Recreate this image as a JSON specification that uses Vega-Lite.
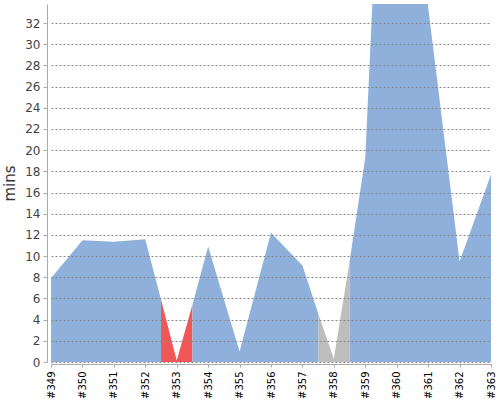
{
  "$schema": "https://vega.github.io/schema/vega-lite/v6.json",
  "width": 440,
  "height": 358,
  "autosize": {"type": "none"},
  "padding": {"left": 51, "top": 4, "right": 9, "bottom": 38},
  "background": "white",
  "config": {"view": {"stroke": null}, "font": "DejaVu Sans"},
  "data": {
    "values": [
      {"build": 349, "mins": 7.9, "status": "success", "seg": "A"},
      {"build": 350, "mins": 11.5, "status": "success", "seg": "A"},
      {"build": 351, "mins": 11.35, "status": "success", "seg": "A"},
      {"build": 352, "mins": 11.6, "status": "success", "seg": "A"},
      {"build": 352.5, "mins": 5.9, "status": "success", "seg": "A"},
      {"build": 352.5, "mins": 5.9, "status": "failure", "seg": "B"},
      {"build": 353, "mins": 0.15, "status": "failure", "seg": "B"},
      {"build": 353.5, "mins": 5.4, "status": "failure", "seg": "B"},
      {"build": 353.5, "mins": 5.4, "status": "success", "seg": "C"},
      {"build": 354, "mins": 10.9, "status": "success", "seg": "C"},
      {"build": 355, "mins": 1.0, "status": "success", "seg": "C"},
      {"build": 356, "mins": 12.2, "status": "success", "seg": "C"},
      {"build": 357, "mins": 9.1, "status": "success", "seg": "C"},
      {"build": 357.5, "mins": 4.6, "status": "success", "seg": "C"},
      {"build": 357.5, "mins": 4.6, "status": "aborted", "seg": "D"},
      {"build": 358, "mins": 0.3, "status": "aborted", "seg": "D"},
      {"build": 358.5, "mins": 9.5, "status": "aborted", "seg": "D"},
      {"build": 358.5, "mins": 9.5, "status": "success", "seg": "E"},
      {"build": 359, "mins": 19.3, "status": "success", "seg": "E"},
      {"build": 360, "mins": 84, "status": "success", "seg": "E"},
      {"build": 361, "mins": 33.5, "status": "success", "seg": "E"},
      {"build": 362, "mins": 9.5, "status": "success", "seg": "E"},
      {"build": 363, "mins": 17.7, "status": "success", "seg": "E"}
    ]
  },
  "mark": {"type": "area", "clip": true, "interpolate": "linear"},
  "encoding": {
    "x": {
      "field": "build",
      "type": "quantitative",
      "scale": {"domain": [349, 363], "nice": false, "zero": false},
      "axis": {
        "values": [349, 350, 351, 352, 353, 354, 355, 356, 357, 358, 359, 360, 361, 362, 363],
        "labelExpr": "'#' + datum.value",
        "labelAngle": -90,
        "labelFontSize": 10,
        "labelColor": "#000000",
        "labelPadding": 4,
        "labelFlush": false,
        "labelOverlap": false,
        "grid": false,
        "offset": 2,
        "tickSize": 3,
        "tickColor": "#aaaaaa",
        "domainColor": "#aaaaaa",
        "title": null
      }
    },
    "y": {
      "field": "mins",
      "type": "quantitative",
      "stack": null,
      "scale": {"domain": [0, 33.8], "nice": false, "zero": true},
      "axis": {
        "values": [0, 2, 4, 6, 8, 10, 12, 14, 16, 18, 20, 22, 24, 26, 28, 30, 32],
        "grid": true,
        "gridDash": [2, 2],
        "gridColor": "#888888",
        "gridWidth": 1,
        "offset": 4,
        "tickSize": 4,
        "tickColor": "#aaaaaa",
        "domainColor": "#aaaaaa",
        "labelFontSize": 12,
        "labelColor": "#444444",
        "labelPadding": 3,
        "title": "mins",
        "titleFontSize": 15,
        "titleFontWeight": "normal",
        "titleColor": "#333333",
        "titlePadding": 7,
        "zindex": 1
      }
    },
    "color": {
      "field": "status",
      "type": "nominal",
      "scale": {"domain": ["success", "failure", "aborted"], "range": ["#8EB0DA", "#F25757", "#BDBDBD"]},
      "legend": null
    },
    "detail": {"field": "seg", "type": "nominal"}
  }
}
